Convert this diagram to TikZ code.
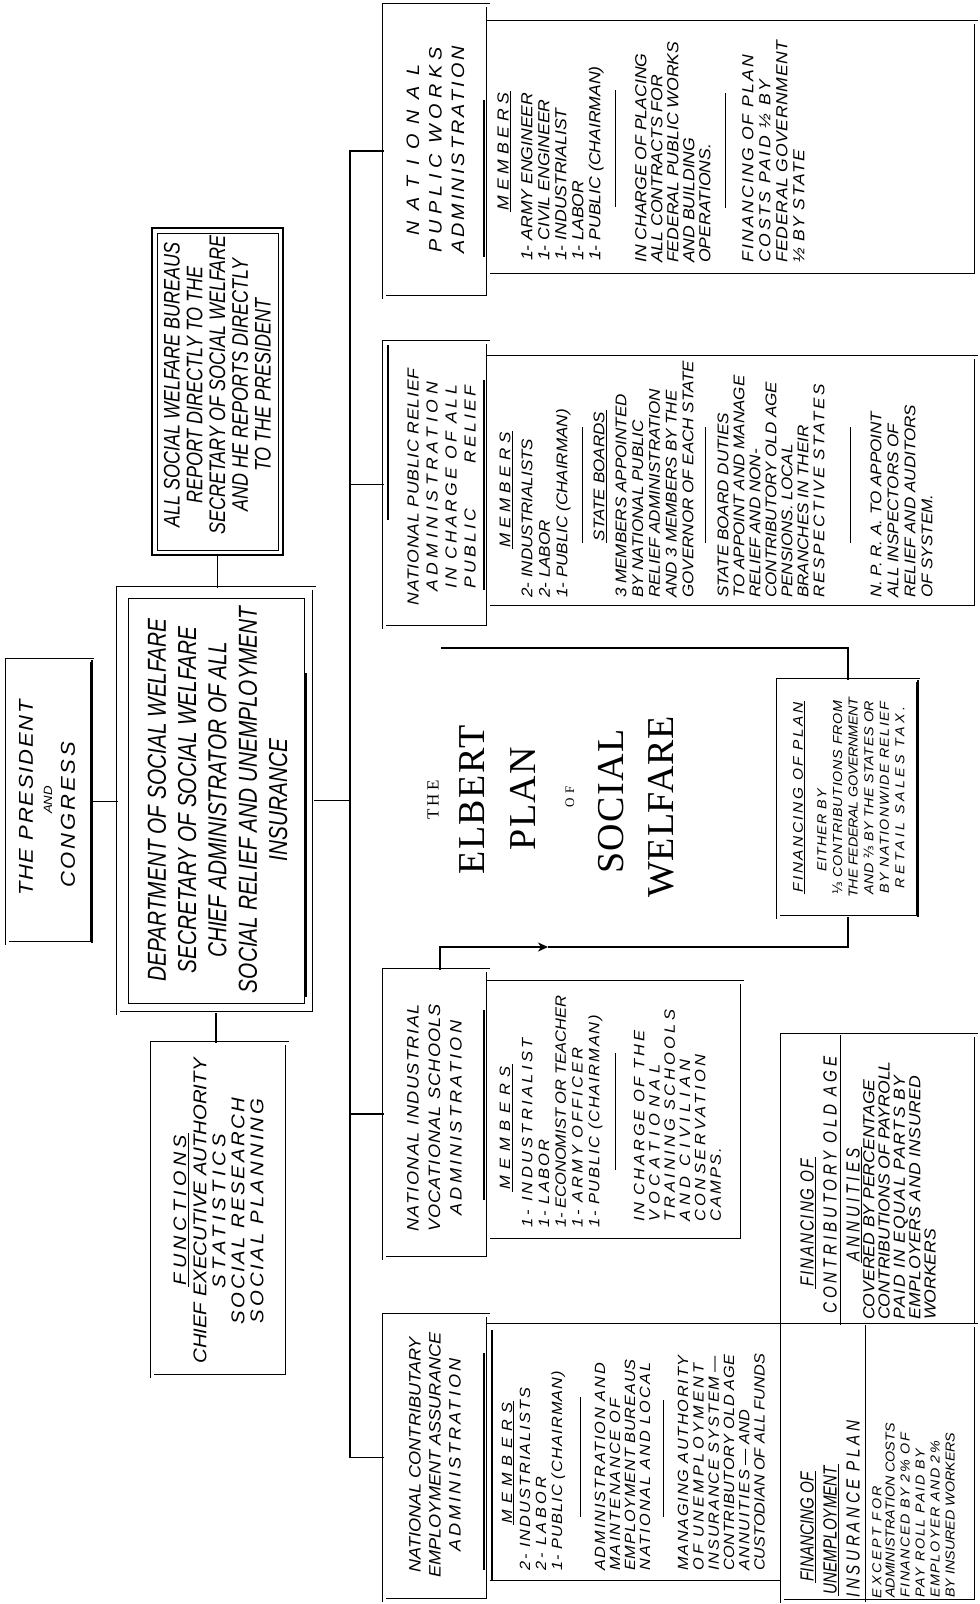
\documentclass[tikz,border=0pt]{standalone}
\usepackage{fontspec}
\usetikzlibrary{arrows.meta}
\newfontfamily\hand[FakeStretch=1.1, Ligatures=TeX]{Liberation Sans}
\newfontfamily\handn[FakeStretch=0.8, Ligatures=TeX]{Liberation Sans}
\newfontfamily\titlefont{Liberation Serif}
\newfontfamily\fracfont{DejaVu Sans}
\newcommand{\ls}[2]{{\addfontfeature{LetterSpace=#1}#2}}
\newcommand{\third}{{\fracfont\upshape ⅓}}
\newcommand{\twothirds}{{\fracfont\upshape ⅔}}

\tikzstyle{boxframe} = [
    rectangle,
    draw=black,
    double,
    double distance=3pt,
    line width=0.7pt,
    inner sep=0pt,
    outer sep=0pt
]
\tikzstyle{heavyframe} = [
    rectangle,
    draw=black,
    line width=2.6pt,
    inner sep=0pt,
    outer sep=0pt
]
\tikzstyle{lettering} = [rotate=90, inner sep=0pt, font=\hand\itshape]
\tikzstyle{bodytext} = [lettering, align=left, anchor=north west]
\tikzstyle{centertext} = [lettering, align=center, anchor=center]
\tikzstyle{headtext} = [lettering, anchor=center, inner sep=1.5pt]
\tikzstyle{titleword} = [rotate=90, inner sep=0pt, anchor=center]
\tikzstyle{ruleline} = [line width=1pt]
\tikzstyle{thickbar} = [line width=2.6pt]
\tikzstyle{linkline} = [line width=1.3pt]
\tikzstyle{arrowline} = [linkline, -{Stealth[length=10pt, width=9pt, inset=3pt]}]
\tikzset{
    sz/.style 2 args={font=\hand\itshape\fontsize{#1}{#2}\selectfont},
    szn/.style 2 args={font=\handn\itshape\fontsize{#1}{#2}\selectfont},
    tsz/.style={font=\titlefont\fontsize{#1}{#1}\selectfont}
}

\begin{document}
\begin{tikzpicture}[x=1pt, y=-1pt]

\fill [white] (0,0) rectangle (980,1604);
\useasboundingbox (0,0) rectangle (980,1604);

% frames
\node (pres) [boxframe, minimum width=85pt, minimum height=283pt] at (49.5,801.5) {};
\node (dept) [boxframe, minimum width=196pt, minimum height=425pt] at (216,800.5) {};
\node (allsoc) [heavyframe, minimum width=131pt, minimum height=327pt] at (217.5,391.5) {};
\node (func) [boxframe, minimum width=135pt, minimum height=333pt] at (219.5,1209.5) {};
\node (pwtab) [boxframe, minimum width=104pt, minimum height=292pt] at (436,151) {};
\node (pwbody) [boxframe, minimum width=488pt, minimum height=253pt] at (732,148.5) {};
\node (prtab) [boxframe, minimum width=104pt, minimum height=285pt] at (436,484.5) {};
\node (prbody) [boxframe, minimum width=488pt, minimum height=250pt] at (732,482) {};
\node (vstab) [boxframe, minimum width=104pt, minimum height=288pt] at (436,1114) {};
\node (vsbody) [boxframe, minimum width=254pt, minimum height=258pt] at (615,1111) {};
\node (cetab) [boxframe, minimum width=104pt, minimum height=285pt] at (436,1457.5) {};
\node (cebody) [boxframe, minimum width=294pt, minimum height=257pt] at (635,1453.5) {};
\node (finold) [boxframe, minimum width=194pt, minimum height=290pt] at (879,1180) {};
\node (finunemp) [boxframe, minimum width=194pt, minimum height=276pt] at (879,1463) {};
\node (finplan) [boxframe, minimum width=140pt, minimum height=237pt] at (848,798.5) {};

% heavy strokes
\draw [thickbar] (pres.north east) -- (pres.south east);
\draw [line width=0.7pt] ([shift={(5,5)}]allsoc.north west) rectangle ([shift={(-5,-5)}]allsoc.south east);
\draw [line width=0.7pt] ([shift={(10,10)}]dept.north west) rectangle ([shift={(-10,-10)}]dept.south east);
\draw [thickbar] (306,673) -- (306,997);
\draw [thickbar] (finplan.north east) -- (finplan.south east);
\draw [thickbar] (484,100) -- (484,257);
\draw [thickbar] (484,380) -- (484,590);
\draw [thickbar] (388,345) -- (388,520);
\draw [thickbar] (484,1010) -- (484,1200);
\draw [thickbar] (484,1353) -- (484,1570);
\draw [thickbar] (492,1330) -- (492,1580);

% president and department
\node (presA) [centertext, sz={20}{22}] at (26,798) {\ls{9}{THE PRESIDENT}};
\node (presB) [centertext, sz={12}{14}] at (48,800) {AND};
\node (presC) [centertext, sz={20}{22}] at (68,815) {\ls{14}{CONGRESS}};

\node (deptText) [centertext, szn={26}{30.3}] at (217.5,800)
{DEPARTMENT OF SOCIAL WELFARE\\SECRETARY OF SOCIAL WELFARE\\CHIEF ADMINISTRATOR OF ALL\\SOCIAL RELIEF AND UNEMPLOYMENT\\INSURANCE};

\node (allsocText) [centertext, szn={22.5}{22.75}] at (217.5,385)
{ALL SOCIAL WELFARE BUREAUS\\REPORT DIRECTLY TO THE\\SECRETARY OF SOCIAL WELFARE\\AND HE REPORTS DIRECTLY\\TO THE PRESIDENT};

\node (funcHead) [headtext, sz={18}{20}] at (180,1210) {\ls{24}{FUNCTIONS}};
\draw [ruleline] (funcHead.south west) -- (funcHead.south east);
\node (funcText) [centertext, sz={18.5}{19}] at (228.5,1211)
{CHIEF EXECUTIVE AUTHORITY\\\ls{24}{STATISTICS}\\\ls{14}{SOCIAL RESEARCH}\\\ls{17}{SOCIAL PLANNING}};

% public works
\node (pwTitle) [centertext, sz={18}{22.5}] at (435.5,150)
{\ls{58}{NATIONAL}\\\ls{30}{PUPLIC WORKS}\\\ls{17}{ADMINISTRATION}};
\node (pwMem) [headtext, sz={16}{17}] at (503,151.5) {\ls{30}{MEMBERS}};
\draw [ruleline] (pwMem.south west) -- (pwMem.south east);
\node (pwList) [bodytext, sz={16}{17}] at (521,261)
{1- ARMY ENGINEER\\1- CIVIL ENGINEER\\1- INDUSTRIALIST\\1- LABOR\\1- PUBLIC (CHAIRMAN)};
\draw [ruleline] (615,90) -- (615,207);
\node (pwDuty) [bodytext, sz={16}{16}] at (635,263)
{IN CHARGE OF PLACING\\ALL CONTRACTS FOR\\FEDERAL PUBLIC WORKS\\AND BUILDING\\OPERATIONS.};
\draw [ruleline] (725,93) -- (725,208);
\node (pwFin) [bodytext, sz={16}{17}] at (742,263)
{\ls{14}{FINANCING OF PLAN}\\\ls{17}{COSTS PAID ½ BY}\\\ls{4}{FEDERAL GOVERNMENT}\\\ls{10}{½ BY STATE}};

% public relief
\node (prTitle) [centertext, sz={16}{19}] at (441.5,487)
{\ls{5}{NATIONAL PUBLIC RELIEF}\\\ls{29}{ADMINISTRATION}\\\ls{21}{IN CHARGE OF ALL}\\\ls{20}{PUBLIC}\hspace{45pt}\ls{20}{RELIEF}};
\node (prMem) [headtext, sz={15.5}{16.7}] at (505,490) {\ls{31}{MEMBERS}};
\draw [ruleline] (prMem.south west) -- (prMem.south east);
\node (prList) [bodytext, sz={15.5}{17.5}] at (521.4,598)
{2- INDUSTRIALISTS\\2- LABOR\\1- PUBLIC (CHAIRMAN)};
\draw [ruleline] (582,427) -- (582,543);
\node (prBoard) [headtext, sz={15.5}{16.7}] at (599,476.5) {STATE BOARDS};
\draw [ruleline] (prBoard.south west) -- (prBoard.south east);
\node (prState) [bodytext, sz={15.5}{16.75}] at (615.4,598)
{3 MEMBERS APPOINTED\\BY NATIONAL PUBLIC\\RELIEF ADMINISTRATION\\AND 3 MEMBERS BY THE\\GOVERNOR OF EACH STATE};
\draw [ruleline] (705,427) -- (705,543);
\node (prDuty) [bodytext, sz={15.5}{16}] at (717.4,598)
{STATE BOARD DUTIES\\TO APPOINT AND MANAGE\\RELIEF AND NON-\\CONTRIBUTORY OLD AGE\\PENSIONS. LOCAL\\BRANCHES IN THEIR\\\ls{16}{RESPECTIVE STATES}};
\draw [ruleline] (850,427) -- (850,543);
\node (prAudit) [bodytext, sz={15.5}{17}] at (870.4,598)
{N. P. R. A. TO APPOINT\\ALL INSPECTORS OF\\RELIEF AND AUDITORS\\OF SYSTEM.};

% title
\node (tThe) [titleword, tsz=17] at (433,800) {\ls{20}{THE}};
\node (tElbert) [titleword, tsz=38] at (472,800) {\ls{4}{ELBERT}};
\node (tPlan) [titleword, tsz=38] at (523,798.5) {\ls{4}{PLAN}};
\node (tOf) [titleword, tsz=13] at (570,797) {\ls{30}{OF}};
\node (tSocial) [titleword, tsz=38] at (611,801.5) {\ls{4}{SOCIAL}};
\node (tWelfare) [titleword, tsz=38] at (661,807) {\ls{2}{WELFARE}};

% financing of plan
\node (finHead) [headtext, sz={14}{15.6}] at (798,797.5) {\ls{18}{FINANCING OF PLAN}};
\draw [ruleline] (finHead.south west) -- (finHead.south east);
\node (finEither) [headtext, sz={13}{15.6}] at (822,830.5) {\ls{8}{EITHER BY}};
\node (finText) [centertext, sz={13}{15.6}] at (868.5,797.5)
{\ls{6}{\third\ CONTRIBUTIONS FROM}\\\ls{-2}{THE FEDERAL GOVERNMENT}\\\ls{4}{AND \twothirds\ BY THE STATES OR}\\\ls{11}{BY NATIONWIDE RELIEF}\\\ls{26}{RETAIL SALES TAX.}};

% vocational schools
\node (vsTitle) [centertext, sz={16.5}{21.5}] at (434.5,1118)
{\ls{9}{NATIONAL INDUSTRIAL}\\\ls{7}{VOCATIONAL SCHOOLS}\\\ls{19}{ADMINISTRATION}};
\node (vsMem) [headtext, sz={15}{16.7}] at (505,1128) {\ls{45}{MEMBERS}};
\draw [ruleline] (vsMem.south west) -- (vsMem.south east);
\node (vsList) [bodytext, sz={15}{16.75}] at (521.6,1228)
{\ls{22}{1- INDUSTRIALIST}\\\ls{15}{1- LABOR}\\1- ECONOMIST OR TEACHER\\\ls{20}{1- ARMY OFFICER}\\\ls{12}{1- PUBLIC (CHAIRMAN)}};
\draw [ruleline] (615,1053) -- (615,1170);
\node (vsDuty) [bodytext, sz={15}{15.3}] at (633.6,1222)
{\ls{19}{IN CHARGE OF THE}\\\ls{39}{VOCATIONAL}\\\ls{23}{TRAINING SCHOOLS}\\\ls{36}{AND CIVILIAN}\\\ls{23}{CONSERVATION}\\\ls{14}{CAMPS.}};

% contributory employment assurance
\node (ceTitle) [centertext, sz={16.5}{20}] at (435,1455)
{NATIONAL CONTRIBUTARY\\EMPLOYMENT ASSURANCE\\\ls{18}{ADMINISTRATION}};
\node (ceMem) [headtext, sz={14.8}{15.3}] at (507,1463) {\ls{43}{MEMBERS}};
\draw [ruleline] (ceMem.south west) -- (ceMem.south east);
\node (ceList) [bodytext, sz={14.8}{16}] at (519.7,1571)
{\ls{14}{2- INDUSTRIALISTS}\\\ls{22}{2- LABOR}\\\ls{8}{1- PUBLIC (CHAIRMAN)}};
\draw [ruleline] (580,1397) -- (580,1517);
\node (ceAdmin) [bodytext, sz={14.8}{15}] at (594.7,1571)
{\ls{13}{ADMINISTRATION AND}\\\ls{15}{MAINTENANCE OF}\\\ls{6}{EMPLOYMENT BUREAUS}\\\ls{14}{NATIONAL AND LOCAL}};
\draw [ruleline] (663,1400) -- (663,1517);
\node (ceManage) [bodytext, sz={14.8}{15.3}] at (677.7,1571)
{\ls{12}{MANAGING AUTHORITY}\\\ls{22}{OF UNEMPLOYMENT}\\\ls{13}{INSURANCE SYSTEM} —\\\ls{4}{CONTRIBUTORY OLD AGE}\\\ls{12}{ANNUITIES} — AND\\CUSTODIAN OF ALL FUNDS};

% financing of old age annuities
\node (oldHeadA) [headtext, szn={19}{20}] at (807,1223) {\ls{10}{FINANCING OF}};
\draw [ruleline] (oldHeadA.south west) -- (oldHeadA.south east);
\node (oldHeadB) [headtext, szn={19}{20}] at (830,1185) {\ls{20}{CONTRIBUTORY OLD AGE}};
\draw [ruleline] (840,1035) -- (840,1325);
\node (oldHeadC) [headtext, szn={19}{20}] at (853,1205) {\ls{21}{ANNUITIES}};
\draw [ruleline] (oldHeadC.south west) -- (oldHeadC.south east);
\node (oldText) [bodytext, sz={16}{15.3}] at (863,1320)
{COVERED BY PERCENTAGE\\CONTRIBUTIONS OF PAYROLL\\\ls{10}{PAID IN EQUAL PARTS BY}\\\ls{3}{EMPLOYERS AND INSURED}\\WORKERS};

% financing of unemployment insurance
\node (unHeadA) [headtext, szn={19}{20}] at (807,1527) {FINANCING OF};
\draw [ruleline] (unHeadA.south west) -- (unHeadA.south east);
\node (unHeadB) [headtext, szn={19}{20}] at (830,1530) {UNEMPLOYMENT};
\draw [ruleline] (unHeadB.south west) -- (unHeadB.south east);
\node (unHeadC) [headtext, szn={19}{20}] at (853,1509) {\ls{19}{INSURANCE PLAN}};
\draw [ruleline] (865,1325) -- (865,1602);
\node (unExcept) [headtext, sz={13}{15}] at (877,1542) {\ls{20}{EXCEPT FOR}};
\node (unText) [bodytext, sz={13}{15}] at (885.3,1598)
{ADMINISTRATION COSTS\\\ls{12}{FINANCED BY 2\% OF}\\\ls{14}{PAY ROLL PAID BY}\\\ls{12}{EMPLOYER AND 2\%}\\BY INSURED WORKERS};

% connectors
\coordinate (bus) at (350,800);
\coordinate (reliefEnd) at (441,648);
\coordinate (arrowTip) at (548,947);
\draw [linkline] (pres.east) -- (pres.east -| dept.west);
\draw [linkline] (allsoc.south) -- (allsoc.south |- dept.north);
\draw [linkline] (dept.south) -- (dept.south |- func.north);
\draw [linkline] (dept.east) -- (dept.east -| bus);
\draw [linkline] (pwtab.west) -| (bus) |- (cetab.west);
\draw [linkline] (prtab.west) -- (prtab.west -| bus);
\draw [linkline] (vstab.west) -- (vstab.west -| bus);
\draw [linkline] (finplan.north) |- (reliefEnd);
\draw [arrowline] ([xshift=4pt]vstab.north) |- (arrowTip);
\draw [linkline] (arrowTip) -- (arrowTip -| finplan.south) -- (finplan.south);

\end{tikzpicture}
\end{document}
